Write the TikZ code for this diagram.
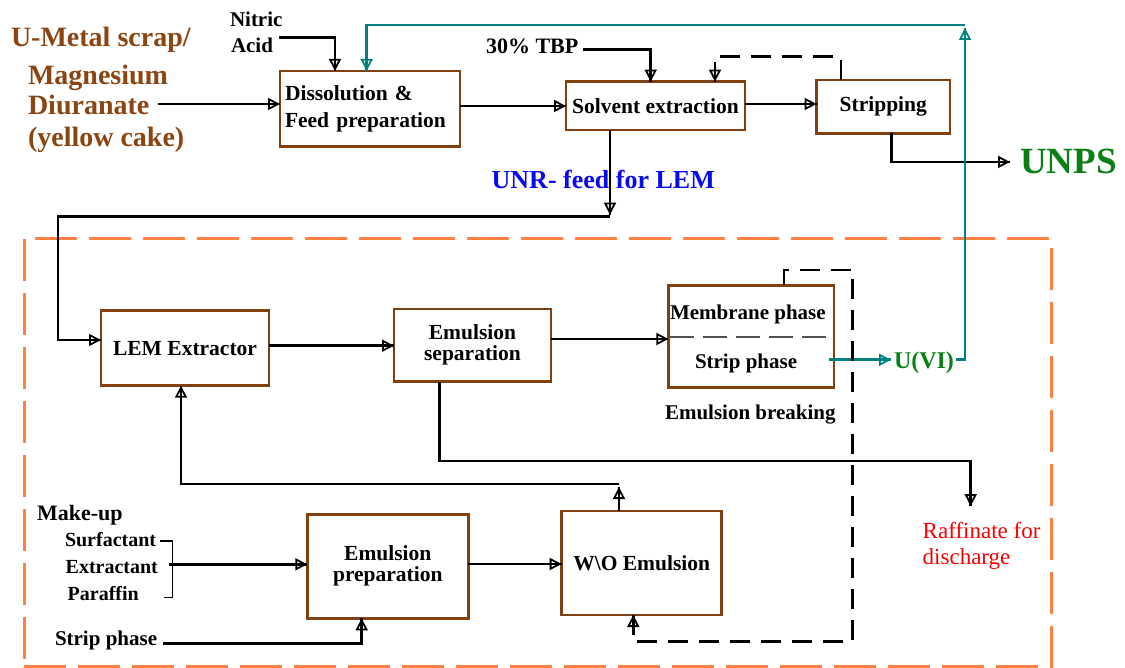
\documentclass[tikz,border=0pt]{standalone}
\usepackage{fontspec}
\setmainfont{Liberation Serif}
\usetikzlibrary{arrows.meta,calc}
\definecolor{boxbrown}{RGB}{128,64,16}
\definecolor{scrapbrown}{RGB}{139,69,19}
\definecolor{tealc}{RGB}{0,128,128}
\definecolor{prodgreen}{RGB}{10,128,20}
\definecolor{unrblue}{RGB}{10,10,240}
\definecolor{raffred}{RGB}{250,0,0}
\definecolor{zoneorange}{RGB}{255,128,64}
\definecolor{splitgray}{RGB}{80,80,80}
\newcommand{\fsz}[2]{\fontsize{#1}{#2}\selectfont}

\begin{document}
\begin{tikzpicture}[x=1pt,y=-1pt,
  every node/.style={inner sep=0pt, outer sep=0pt},
  lbl/.style={anchor=base west, font=\bfseries\fsz{21}{25}},
  brownlbl/.style={anchor=base west, font=\bfseries\fsz{28}{30}, text=scrapbrown},
  box/.style={draw=boxbrown, line width=2.8pt, fill=white, align=center,
              font=\bfseries\fsz{21.5}{26.6}},
  link/.style={line width=2.8pt},
  arr/.style={link, postaction={draw, line width=2.8pt,
      -{Triangle[open, fill=none, length=12pt, width=12pt, line width=1.8pt]}}},
  darr/.style={arr, dash pattern=on 20pt off 11pt},
  tarr/.style={arr, draw=tealc},
  splitline/.style={draw=splitgray, line width=1.8pt, dash pattern=on 24pt off 9pt},
  bracket/.style={line width=1.5pt},
]
\useasboundingbox (0,0) rectangle (1125,668);

% LEM process zone
\node[draw=zoneorange, line width=2.8pt, dash pattern=on 42pt off 12pt,
      minimum width=1027.4pt, minimum height=428.2pt] (lemzone) at (538,452.4) {};

% feed materials
\node[brownlbl] (scrap) at (11,46.7) {U-Metal scrap/};
\node[brownlbl] (magn) at (28,85) {Magnesium};
\node[brownlbl] (diur) at (28,115) {Diuranate};
\node[brownlbl] (cake) at (28,146.7) {(yellow cake)};

\node[lbl] (nitric) at (230,26.7) {Nitric};
\node[lbl] (acid) at (231,52.7) {Acid};
\node[lbl, font=\bfseries\fsz{22}{25}] (tbp) at (486,53.3) {30\% TBP};

% process boxes
\node[box, minimum width=180pt, minimum height=75.7pt, text width=170pt, align=left]
  (dis) at (370,108.8) {Dissolution \&\\Feed preparation};
\node[box, minimum width=179pt, minimum height=48.3pt] (sol) at (655.5,105.8) {Solvent extraction};
\node[box, minimum width=133.3pt, minimum height=53.3pt] (strp) at (883.3,106.7) {Stripping};
\node[box, minimum width=168pt, minimum height=75pt] (lem) at (185,348.2) {LEM Extractor};
\node[box, minimum width=157pt, minimum height=72.7pt, font=\bfseries\fsz{21.5}{21}]
  (sep) at (472.5,345.3) {Emulsion\\separation};
\node[box, minimum width=165.7pt, minimum height=102.4pt] (brk) at (751.2,336.5) {};
\node[box, minimum width=161pt, minimum height=104pt, font=\bfseries\fsz{21.5}{21}]
  (prep) at (387.8,566.3) {Emulsion\\preparation};
\node[box, minimum width=160pt, minimum height=104pt] (wo) at (641.7,563) {W\textbackslash O Emulsion};

\node[lbl] (memb) at (670,320) {Membrane phase};
\node[lbl] (stph) at (695,368.3) {Strip phase};
\node[lbl] (brklbl) at (665,420) {Emulsion breaking};

% products
\node[anchor=base west, font=\bfseries\fsz{37}{40}, text=prodgreen] (unps) at (1020,174) {UNPS};
\node[anchor=base west, font=\bfseries\fsz{24}{26}, text=prodgreen] (uvi) at (894,368.5) {U(VI)};
\node[anchor=base west, font=\bfseries\fsz{26}{28}, text=unrblue] (unr) at (491.7,188.3) {UNR- feed for LEM};
\node[anchor=base west, font=\fsz{23}{26}, text=raffred] (raff1) at (922.7,538.3) {Raffinate for};
\node[anchor=base west, font=\fsz{23}{26}, text=raffred] (raff2) at (922.7,564) {discharge};

% make-up inputs
\node[lbl, font=\bfseries\fsz{22}{24}] (makeup) at (37,520) {Make-up};
\node[lbl, font=\bfseries\fsz{20}{22}] (surf) at (65,546.7) {Surfactant};
\node[lbl, font=\bfseries\fsz{20}{22}] (extr) at (65.7,573.3) {Extractant};
\node[lbl, font=\bfseries\fsz{20}{22}] (paraf) at (67.7,600) {Paraffin};
\node[lbl] (sp2) at (55,645) {Strip phase};

% named bend points
\coordinate (tc) at (965,25);
\coordinate (unrj) at (610,216.7);
\coordinate (woc) at (619,484);

% upper flowsheet
\draw[arr] ([xshift=9pt]diur.east |- 0,104) -- (dis.west |- 0,104);
\draw[arr] ([xshift=-3pt]nitric.east |- 0,37.3) -| ([xshift=55pt]dis.north west);
\draw[arr] ([xshift=5pt]tbp.east |- 0,49.3) -| ([xshift=84.7pt]sol.north west);
\draw[arr] (dis.east |- 0,106) -- (sol.west |- 0,106);
\draw[arr] (sol.east |- 0,104) -- (strp.west |- 0,104);
\draw[darr] ([xshift=24.3pt]strp.north west) -- ++(0,-23.3) -| ([xshift=149pt]sol.north west);
\draw[arr] ([xshift=75pt]strp.south west) |- ([xshift=-10pt]unps.west);

% uranium return loop
\draw[tarr] ([xshift=-5pt]brk.east |- 0,359.8) -- ([xshift=-3pt]uvi.west |- 0,359.8);
\draw[tarr] ([xshift=2pt]uvi.east |- 0,359.8) -| ([yshift=-3pt]tc);
\draw[tarr] (tc) -| ([xshift=86.7pt]dis.north west);

% feed to LEM
\draw[arr] ([xshift=44pt]sol.south west) -- ([yshift=2pt]unrj);
\draw[arr] (unrj) -| (58,340) -- (lem.west |- 0,340);

% LEM loop
\draw[arr] (lem.east |- 0,345.7) -- (sep.west |- 0,345.7);
\draw[arr] (sep.east |- 0,339) -- (brk.west |- 0,339);
\draw[splitline] ([xshift=2pt]brk.west |- 0,336.7) -- ([xshift=-4pt]brk.east |- 0,336.7);
\draw[darr] ([xshift=115.7pt]brk.north west) -- ++(0,-15.3) -| (852.7,641.7)
  -| ([xshift=71.6pt]wo.south west);
\draw[arr] ([xshift=45.3pt]sep.south west) -- ++(0,79.3) -| ([xshift=48pt,yshift=16pt]raff1.north west);
\draw[arr] ([xshift=57.3pt]wo.north west) -- ([yshift=-3pt]woc);
\draw[arr] (woc) -| ([xshift=-4pt]lem.south);
\draw[arr] (prep.east |- 0,564) -- (wo.west |- 0,564);

% make-up feed
\draw[bracket] ([xshift=4pt]surf.east |- 0,541) -| (172.7,597.7) -- ([xshift=25.6pt]paraf.east |- 0,597.7);
\draw[arr] ([xshift=11pt]extr.east |- 0,564.3) -- (prep.west |- 0,564.3);
\draw[arr] ([xshift=6pt]sp2.east |- 0,643.3) -| ([xshift=54.4pt]prep.south west);
\end{tikzpicture}
\end{document}
